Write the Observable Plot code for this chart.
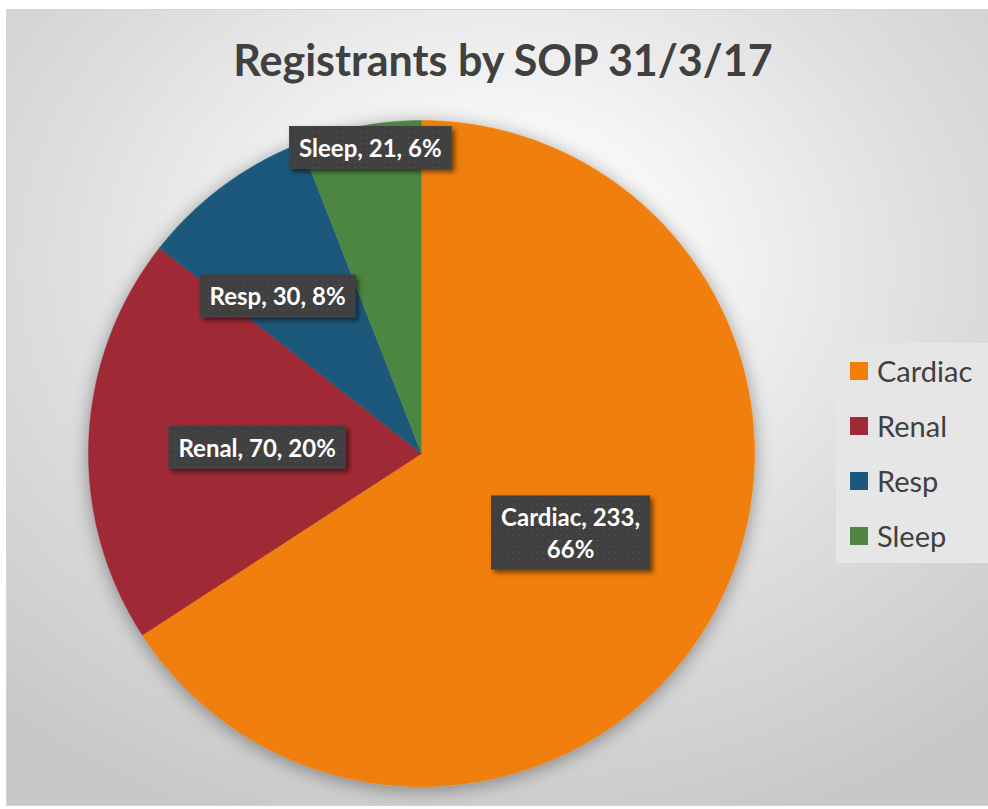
<!DOCTYPE html>
<html>
<head>
<meta charset="utf-8">
<script src="https://cdn.jsdelivr.net/npm/d3@7"></script>
<script src="https://cdn.jsdelivr.net/npm/@observablehq/plot@0.6"></script>
<style>
  html, body { margin: 0; padding: 0; background: #ffffff; }
  #page { position: relative; width: 988px; height: 809px; overflow: hidden; }
  #frame {
    position: absolute; left: 6px; top: 9px; width: 984px; height: 797px;
    box-sizing: border-box; border: 1px solid #d4d4d4;
    background: radial-gradient(ellipse 75% 75% at 50% 32%, #ffffff 0%, #f6f6f6 25%, #dedede 60%, #c8c8c8 100%);
  }
  #title {
    position: absolute; left: 18px; width: 970px; top: 38px;
    text-align: center; font-family: Lato, sans-serif; font-weight: 700;
    font-size: 43px; line-height: 1; color: #404040; white-space: nowrap;
  }
  #legend {
    position: absolute; left: 836px; top: 343px; width: 152px; height: 220px;
    background: #e6e6e6; font-family: Lato, sans-serif; color: #404040;
  }
  .row { height: 55px; display: flex; align-items: center; }
  .sw { width: 18px; height: 18px; margin-left: 14px; margin-right: 9px; }
  .lt { font-size: 29px; line-height: 1; }
  #plot { position: absolute; left: 0; top: 0; }
</style>
</head>
<body>
<div id="page">
  <div id="frame"></div>
  <div id="plot"></div>
  <div id="title"></div>
  <div id="legend"></div>
</div>
<script>
const title = "Registrants by SOP 31/3/17";
const categories = ["Cardiac", "Renal", "Resp", "Sleep"];
const values = [233, 70, 30, 21];
const colors = ["#F07F09", "#9F2936", "#1B587C", "#4E8542"];

// label placement options (radius as fraction of pie radius, angular nudge in degrees)
const labelPlacement = {
  Cardiac: {r: 0.506, da: -0.7},
  Renal: {r: 0.494, da: -0.2},
  Resp: {r: 0.642, da: -5.7},
  Sleep: {r: 0.933, da: 1.2}
};

const W = 988, H = 809, CX = 421, CY = 453, R = 333;

const rows = categories.map((c, i) => ({category: c, value: values[i]}));
const total = d3.sum(values);
const arcs = d3.pie().sort(null).value(d => d.value)(rows);

const pts = [];
for (const a of arcs) {
  const n = Math.max(2, Math.ceil((a.endAngle - a.startAngle) / (Math.PI / 720)));
  pts.push({category: a.data.category, x: 0, y: 0});
  for (let k = 0; k <= n; k++) {
    const t = a.startAngle + (a.endAngle - a.startAngle) * k / n;
    pts.push({category: a.data.category, x: Math.sin(t), y: Math.cos(t)});
  }
}

const labels = arcs.map(a => {
  const c = a.data.category;
  const p = labelPlacement[c];
  const t = (a.startAngle + a.endAngle) / 2 + p.da * Math.PI / 180;
  const pct = Math.round(a.data.value / total * 100);
  const text = c === "Cardiac"
    ? `${c}, ${a.data.value},\n${pct}%`
    : `${c}, ${a.data.value}, ${pct}%`;
  return {category: c, x: p.r * Math.sin(t), y: p.r * Math.cos(t), text};
});

const chart = Plot.plot({
  width: W, height: H,
  marginLeft: 0, marginRight: 0, marginTop: 0, marginBottom: 0,
  style: {background: "transparent", overflow: "visible"},
  x: {domain: [-CX / R, (W - CX) / R], axis: null},
  y: {domain: [(CY - H) / R, CY / R], axis: null},
  color: {domain: categories, range: colors},
  marks: [
    Plot.line(pts, {x: "x", y: "y", z: "category", fill: "category", stroke: "category", strokeWidth: 0.5, curve: "linear"}),
    Plot.text(labels, {
      x: "x", y: "y", text: "text", fill: "white",
      fontFamily: "Lato, sans-serif", fontWeight: "bold", fontSize: 24,
      lineHeight: 1.3, textAnchor: "middle", lineAnchor: "middle"
    })
  ]
});
document.getElementById("plot").appendChild(chart);

// defs: shadows and dotted texture for label boxes
const svg = d3.select(chart);
const defs = svg.insert("defs", ":first-child");
defs.append("filter").attr("id", "pieShadow").attr("x", "-20%").attr("y", "-20%").attr("width", "140%").attr("height", "140%")
  .append("feDropShadow").attr("dx", 0).attr("dy", 3).attr("stdDeviation", 9)
  .attr("flood-color", "#000").attr("flood-opacity", 0.38);
defs.append("filter").attr("id", "boxShadow").attr("x", "-20%").attr("y", "-30%").attr("width", "150%").attr("height", "170%")
  .append("feDropShadow").attr("dx", 3).attr("dy", 3).attr("stdDeviation", 2.5)
  .attr("flood-color", "#000").attr("flood-opacity", 0.55);
const pat = defs.append("pattern").attr("id", "dots").attr("width", 6).attr("height", 6).attr("patternUnits", "userSpaceOnUse");
pat.append("rect").attr("width", 6).attr("height", 6).attr("fill", "#404040");
pat.append("rect").attr("x", 2).attr("y", 2).attr("width", 1.2).attr("height", 1.2).attr("fill", "#555555");

svg.select('g[aria-label="line"]').attr("filter", "url(#pieShadow)");

svg.selectAll('g[aria-label="text"] text').each(function() {
  const b = this.getBBox();
  const padX = 10, padY = 7;
  const r = document.createElementNS("http://www.w3.org/2000/svg", "rect");
  r.setAttribute("x", b.x - padX);
  r.setAttribute("y", b.y - padY);
  r.setAttribute("width", b.width + 2 * padX);
  r.setAttribute("height", b.height + 2 * padY);
  r.setAttribute("fill", "url(#dots)");
  r.setAttribute("filter", "url(#boxShadow)");
  const tr = this.getAttribute("transform");
  if (tr) r.setAttribute("transform", tr);
  this.parentNode.insertBefore(r, this);
});

document.getElementById("title").textContent = title;
const legend = d3.select("#legend");
categories.forEach((c, i) => {
  const row = legend.append("div").attr("class", "row");
  row.append("div").attr("class", "sw").style("background", colors[i]);
  row.append("div").attr("class", "lt").text(c);
});
</script>
</body>
</html>
